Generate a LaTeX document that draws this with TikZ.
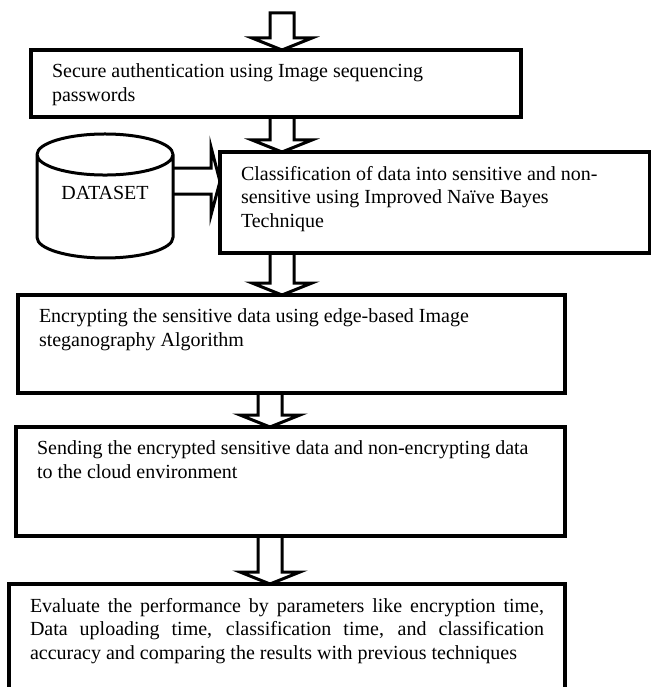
\documentclass[tikz,border=0pt]{standalone}
\usepackage{fontspec}
\setmainfont{Liberation Serif}
\usetikzlibrary{calc,shapes.geometric}

% text of a box: width, height, lines
\newcommand\boxtext[3]{\parbox[t][#2][t]{#1}{#3}}

% hollow block arrows
\newcommand\blockdown[3]{%
  \draw[hollow] let \p1=(#1), \p2=(#2) in
    (\x1-12pt,\y1) -- (\x1-12pt,\y2+12pt) -- (\x1-30pt,\y2+12pt) -- (\x2,\y2)
    -- (\x1+30pt,\y2+12pt) -- (\x1+12pt,\y2+12pt) -- (\x1+12pt,\y1) #3;}
\newcommand\blockright[2]{%
  \draw[hollow] let \p1=(#1), \p2=(#2) in
    (\x1,\y1+13pt) -- (\x2-9pt,\y1+13pt) -- (\x2-9pt,\y1+34pt) -- (\x2,\y2)
    -- (\x2-9pt,\y1-34pt) -- (\x2-9pt,\y1-13pt) -- (\x1,\y1-13pt);}

\begin{document}
\begin{tikzpicture}[x=1pt, y=-1pt, font=\fontsize{20}{23.5}\selectfont,
    stage/.style={draw, line width=3.5pt, anchor=north west, inner xsep=21pt,
      inner ysep=14pt, outer sep=0pt},
    hollow/.style={line width=3pt, line join=miter},
    store/.style={draw, line width=3pt, cylinder, shape border rotate=90,
      aspect=0.47, minimum width=136pt, minimum height=124pt, inner sep=0pt,
      outer sep=0pt, text depth=28pt}]
  \useasboundingbox (0,0) rectangle (650,687);

  \coordinate (in) at (282,13);
  \coordinate (axisA) at (282,0);
  \coordinate (axisB) at (270,0);

  \node[stage] (auth) at (31,50)
    {\boxtext{448pt}{39pt}{Secure authentication using Image sequencing\\passwords}};
  \node[stage] (classify) at (220,152)
    {\boxtext{388pt}{73pt}{Classification of data into sensitive and non-\\sensitive using Improved Naïve Bayes\\Technique}};
  \node[store] (dataset) at (105,207) {DATASET};
  \node[stage] (encrypt) at (18,295)
    {\boxtext{505pt}{70pt}{Encrypting the sensitive data using edge-based Image\\steganography Algorithm}};
  \node[stage] (send) at (16,427)
    {\boxtext{507pt}{81pt}{Sending the encrypted sensitive data and non-encrypting data\\to the cloud environment}};
  \node[stage] (evaluate) at (9,584)
    {\boxtext{514pt}{100pt}{\makebox[\linewidth][s]{Evaluate the performance by parameters like encryption time,}\\
      \makebox[\linewidth][s]{Data uploading time, classification time, and classification}\\
      accuracy and comparing the results with previous techniques}};

  % arrows
  \blockdown{in}{auth.north -| in}{-- cycle}
  \blockdown{auth.south -| axisA}{classify.north -| axisA}{}
  \blockright{$(dataset.east)+(0,-26)$}{$(classify.west)+(0,-21)$}
  \blockdown{classify.south -| axisA}{encrypt.north -| axisA}{}
  \blockdown{encrypt.south -| axisB}{send.north -| axisB}{}
  \blockdown{send.south -| axisB}{evaluate.north -| axisB}{}
\end{tikzpicture}
\end{document}
